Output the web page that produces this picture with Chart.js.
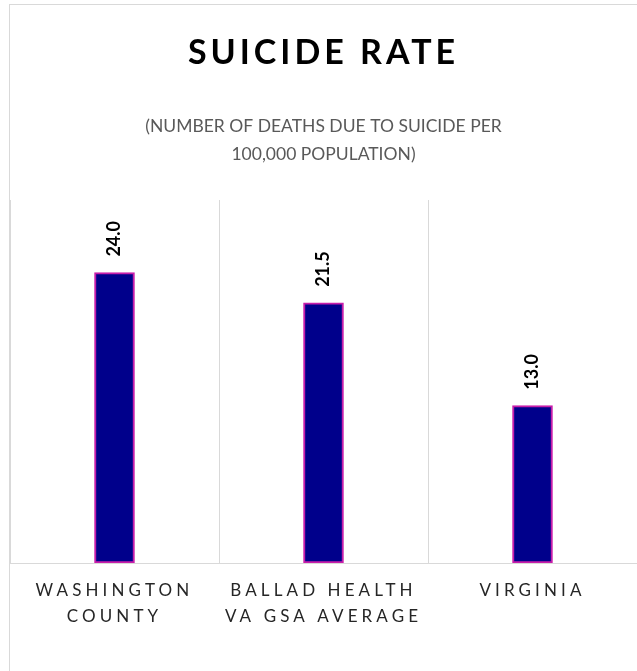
<!DOCTYPE html>
<html>
<head>
<meta charset="utf-8">
<script src="https://cdn.jsdelivr.net/npm/chart.js@4/dist/chart.umd.min.js"></script>
<style>
  html, body { margin: 0; padding: 0; background: #fff; }
  #wrap { width: 637px; height: 671px; }
</style>
</head>
<body>
<div id="wrap"><canvas id="suicideChart"></canvas></div>
<script>
// chart data
const categories = [['WASHINGTON', 'COUNTY'], ['BALLAD HEALTH', 'VA GSA AVERAGE'], 'VIRGINIA'];
const rates = [24.0, 21.5, 13.0];
const axisMin = 0;
const axisMax = 30;

// outer border of the chart frame
const frameBorder = {
    id: 'frameBorder',
    beforeDraw(chart) {
        const ctx = chart.ctx;
        ctx.save();
        ctx.strokeStyle = '#d9d9d9';
        ctx.lineWidth = 1;
        ctx.strokeRect(9.5, 4.5, 700, 700);
        ctx.restore();
    }
};

// wide letter spacing on the category labels and the title
const spacedText = {
    id: 'spacedText',
    beforeDraw(chart) {
        const scale = chart.scales.x;
        if (scale._spaced) return;
        const orig = scale.drawLabels.bind(scale);
        scale.drawLabels = function (area) {
            chart.ctx.save();
            chart.ctx.letterSpacing = '4.1px';
            orig(area);
            chart.ctx.restore();
        };
        scale._spaced = true;
        const title = chart.titleBlock;
        const origTitle = title.draw.bind(title);
        title.draw = function () {
            chart.ctx.save();
            chart.ctx.letterSpacing = '4px';
            origTitle();
            chart.ctx.restore();
        };
    }
};

// value labels, rotated, above each bar
const valueLabels = {
    id: 'valueLabels',
    afterDatasetsDraw(chart) {
        const ctx = chart.ctx;
        chart.getDatasetMeta(0).data.forEach((bar, i) => {
            ctx.save();
            ctx.translate(bar.x, bar.y - 16);
            ctx.rotate(-Math.PI / 2);
            ctx.font = 'bold 18px Lato';
            ctx.fillStyle = '#000';
            ctx.textAlign = 'left';
            ctx.textBaseline = 'middle';
            ctx.fillText(rates[i].toFixed(1), 0, 0);
            ctx.restore();
        });
    }
};

new Chart(document.getElementById('suicideChart'), {
    type: 'bar',
    data: {
        labels: categories,
        datasets: [{
            data: rates,
            backgroundColor: '#00008B',
            borderColor: '#C71EAA',
            borderWidth: 2,
            borderSkipped: false,
            barThickness: 40
        }]
    },
    options: {
        responsive: true,
        maintainAspectRatio: false,
        animation: false,
        layout: { padding: { left: 10, right: 0, top: 0, bottom: 0 } },
        plugins: {
            legend: { display: false },
            tooltip: { enabled: false },
            title: {
                display: true,
                text: 'SUICIDE RATE',
                color: '#000',
                font: { family: 'Lato', size: 34, weight: 'bold', lineHeight: '40px' },
                padding: { top: 33, bottom: 39.75 }
            },
            subtitle: {
                display: true,
                text: ['(NUMBER OF DEATHS DUE TO SUICIDE PER', '100,000 POPULATION)'],
                color: '#595959',
                font: { family: 'Lato', size: 17.5, lineHeight: '27.5px' },
                padding: { top: 0, bottom: 32.25 }
            }
        },
        scales: {
            x: {
                grid: { color: '#d9d9d9', drawTicks: false, offset: true },
                border: { color: '#d9d9d9' },
                ticks: {
                    color: '#262626',
                    font: { family: 'Lato', size: 17, lineHeight: '26.5px' },
                    padding: 14,
                    maxRotation: 0
                },
                afterFit(scale) { scale.height = 108; }
            },
            y: {
                display: false,
                min: axisMin,
                max: axisMax
            }
        }
    },
    plugins: [frameBorder, spacedText, valueLabels]
});
</script>
</body>
</html>
